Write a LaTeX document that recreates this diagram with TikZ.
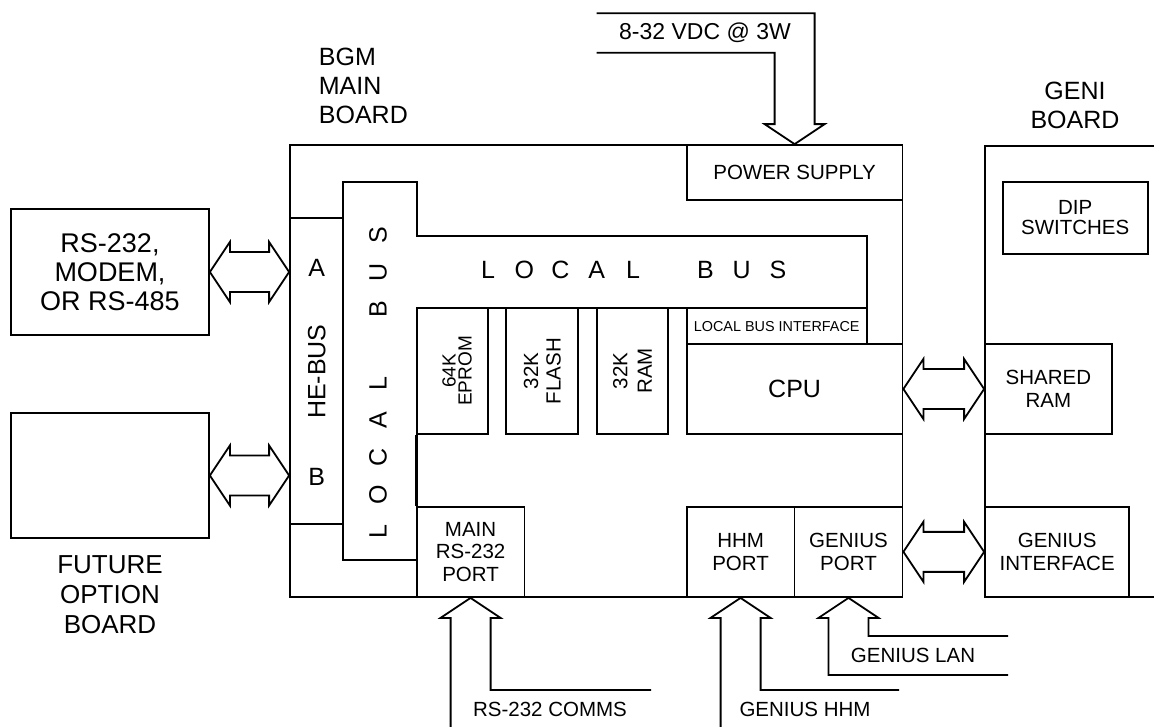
\documentclass[tikz,border=0pt]{standalone}
\usepackage{fontspec}
\setmainfont{Liberation Sans}
\usetikzlibrary{calc}
\newcommand\fbig{\fontsize{25}{29}\selectfont}
\newcommand\frs{\fontsize{27}{29}\selectfont}
\newcommand\ffut{\fontsize{26}{30}\selectfont}
\newcommand\fmed{\fontsize{20.5}{22.5}\selectfont}
\newcommand\fsml{\fontsize{14.4}{16}\selectfont}
\newcommand\shl[1]{\makebox[36.25pt]{#1}}
\newcommand\svl[1]{\makebox[37pt]{#1}}
\newcommand\bx[7][]{\node[box,#1,minimum width={#5-#3},minimum height={#6-#4}] (#2) at ({(#3+#5)/2},{(#4+#6)/2}) {#7};}
\newcommand\dblarr[2]{\draw let \p1=#1, \p2=#2 in (\x1,\y1) -- (\x1+20,\y1+30) -- (\x1+20,\y1+20) -- (\x2-20,\y1+20) -- (\x2-20,\y1+30) -- (\x2,\y1) -- (\x2-20,\y1-30) -- (\x2-20,\y1-20) -- (\x1+20,\y1-20) -- (\x1+20,\y1-30) -- cycle;}
\begin{document}
\begin{tikzpicture}[x=1pt,y=-1pt,line width=1.8pt,
  box/.style={draw,rectangle,inner sep=0pt,align=center,font=\fmed},
  lbl/.style={inner sep=0pt,align=center,font=\fmed}]
\useasboundingbox (0,0) rectangle (1154,726);
% main board
\bx{main}{290}{145}{902.5}{597}{}
\bx{ps}{686.7}{145}{902.5}{200}{POWER SUPPLY}
\bx{hebus}{290}{217.7}{343.3}{524.3}{}
\node[lbl,font=\fbig] (la) at (316.7,268) {A};
\node[lbl,font=\fbig] (lb) at (316.7,476.7) {B};
\node[lbl,font=\fbig,rotate=90] (lhe) at (316.7,371.7) {HE-BUS};
% local bus
\draw (343.3,182.3) -- (416.7,182.3) -- (416.7,236) -- (866.7,236) -- (866.7,308.3) -- (416.7,308.3) -- (416.7,560) -- (343.3,560) -- cycle;
\node[lbl,font=\fbig] (lbh) at (633,270) {\shl{L}\shl{O}\shl{C}\shl{A}\shl{L}\shl{}\shl{B}\shl{U}\shl{S}};
\node[lbl,font=\fbig,rotate=90] (lbv) at (378,383.3) {\svl{L}\svl{O}\svl{C}\svl{A}\svl{L}\svl{}\svl{B}\svl{U}\svl{S}};
% memories
\bx{eprom}{416.7}{308.3}{488.3}{434}{}
\bx{flash}{506}{308.3}{578.3}{434}{}
\bx{ram}{596.7}{308.3}{668.3}{434}{}
\node[lbl,rotate=90,font=\fontsize{19}{16}\selectfont] (teprom) at (457,371) {64K\\EPROM};
\node[lbl,rotate=90] (tflash) at (542.2,371) {32K\\FLASH};
\node[lbl,rotate=90,font=\fontsize{20.5}{24.5}\selectfont] (tram) at (632.5,371) {32K\\RAM};
\bx[font=\fsml]{lbi}{686.7}{308.3}{866.7}{344}{LOCAL BUS INTERFACE}
\bx[font=\fbig]{cpu}{686.7}{344}{902.5}{434}{CPU}
\bx{mrs}{416.7}{506.7}{524.5}{597}{MAIN\\RS-232\\PORT}
\draw (eprom.south west) -- (mrs.north west);
\bx{hhm}{686.7}{506.7}{794.5}{597}{HHM\\PORT}
\bx{gp}{794.5}{506.7}{902.5}{597}{GENIUS\\PORT}
\node[lbl,font=\fbig,align=left,anchor=west] (bgm) at (318,86) {BGM\\MAIN\\BOARD};
% left boards
\bx[font=\frs]{ext}{11}{209}{209}{335}{RS-232,\\MODEM,\\OR RS-485}
\bx{fut}{11}{413}{209}{538}{}
\node[lbl,font=\ffut] (futl) at (110,595) {FUTURE\\OPTION\\BOARD};
\dblarr{(ext.east)}{(hebus.west)}
\dblarr{(fut.east)}{(hebus.west)}
% GENI board
\coordinate (geniTL) at (985,145.7);
\draw (1160,145.7) -- (geniTL) -- (985,597) -- (1160,597);
\node[lbl,font=\fbig] (geni) at (1075,105) {GENI\\BOARD};
\bx[font=\fontsize{20.5}{20}\selectfont]{dip}{1002.7}{182}{1147.7}{254}{DIP\\SWITCHES}
\bx{sram}{985}{344}{1111.7}{434}{SHARED\\RAM}
\bx{gi}{985}{506.7}{1129.3}{597}{GENIUS\\INTERFACE}
\dblarr{(cpu.east)}{(sram.west)}
\dblarr{(gp.east)}{(gi.west)}
% external lines
\coordinate (bot) at (0,730);
\coordinate (rsend) at (651,690);
\coordinate (hhend) at (899,690);
\coordinate (glanA) at (1008,636);
\coordinate (glanB) at (1008,675);
\coordinate (pwA) at (596.7,52.7);
\coordinate (pwB) at (596.7,13.3);
\draw let \p1=(ps.north), \p2=(pwA), \p3=(pwB) in (\p2) -- (\x1-20,\y2) -- (\x1-20,\y1+20) -- (\x1-30,\y1+20) -- (\p1) -- (\x1+30,\y1+20) -- (\x1+20,\y1+20) -- (\x1+20,\y3) -- (\p3);
\draw let \p1=(mrs.south), \p2=(bot), \p3=(rsend) in (\x1-20,\y2) -- (\x1-20,\y1-20) -- (\x1-30,\y1-20) -- (\p1) -- (\x1+30,\y1-20) -- (\x1+20,\y1-20) -- (\x1+20,\y3) -- (\p3);
\draw let \p1=(hhm.south), \p2=(bot), \p3=(hhend) in (\x1-20,\y2) -- (\x1-20,\y1-20) -- (\x1-30,\y1-20) -- (\p1) -- (\x1+30,\y1-20) -- (\x1+20,\y1-20) -- (\x1+20,\y3) -- (\p3);
\draw let \p1=(gp.south), \p2=(glanB), \p3=(glanA) in (\p2) -- (\x1-20,\y2) -- (\x1-20,\y1-20) -- (\x1-30,\y1-20) -- (\p1) -- (\x1+30,\y1-20) -- (\x1+20,\y1-20) -- (\x1+20,\y3) -- (\p3);
\node[lbl,font=\fontsize{23}{25}\selectfont] (pwr) at (705,33) {8-32 VDC @ 3W};
\node[lbl] (rsc) at (550,709) {RS-232 COMMS};
\node[lbl] (ghhm) at (805,709) {GENIUS HHM};
\node[lbl] (glan) at (913,655.5) {GENIUS LAN};
\end{tikzpicture}
\end{document}
